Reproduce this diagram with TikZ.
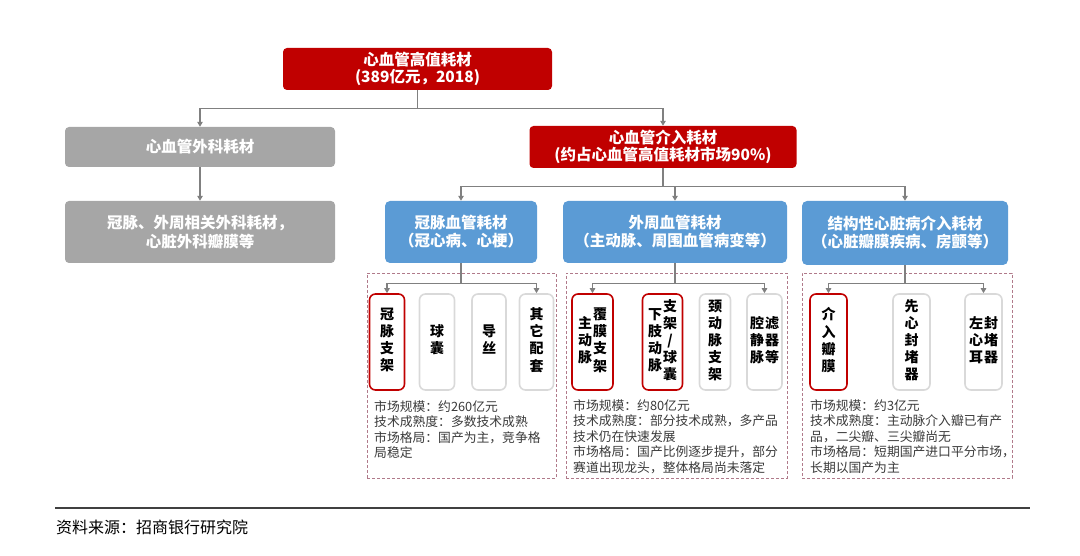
\documentclass[tikz,border=0pt]{standalone}
\usepackage{fontspec}
\setmainfont{Noto Sans CJK SC}
\usepackage{tikz}
\usetikzlibrary{arrows.meta}
\definecolor{Crimson}{HTML}{C00000}
\definecolor{Steel}{HTML}{5B9BD5}
\definecolor{Ash}{HTML}{A6A6A6}
\definecolor{Wire}{HTML}{808080}
\definecolor{Frame}{HTML}{D9D9D9}
\definecolor{Mauve}{HTML}{B07A8A}
\definecolor{Ink}{HTML}{3A3A3A}
\definecolor{Rule}{HTML}{404040}
\newcommand{\vcol}[1]{\begin{tabular}[c]{@{}c@{}}#1\end{tabular}}

\begin{document}
\begin{tikzpicture}[x=1pt,y=-1pt,every node/.style={align=center,inner sep=0pt},
  headbox/.style={rounded corners=4pt,fill=Crimson,text=white,font=\fontsize{15.5}{17}\selectfont\bfseries},
  surgbox/.style={rounded corners=4pt,fill=Ash,text=white,font=\fontsize{15.5}{19}\selectfont\bfseries},
  catbox/.style={rounded corners=5pt,fill=Steel,text=white,font=\fontsize{15.5}{18}\selectfont\bfseries},
  groupbox/.style={draw=Mauve,line width=0.9pt,dash pattern=on 3pt off 2pt},
  itembox/.style={draw=Frame,line width=1.6pt,rounded corners=6pt,minimum height=96pt,font=\fontsize{14}{17}\selectfont\bfseries},
  keybox/.style={itembox,draw=Crimson},
  infotext/.style={anchor=north west,align=left,text=Ink,font=\fontsize{12.8}{15.5}\selectfont},
  conn/.style={draw=Wire,line width=1.1pt,-{Triangle[width=5.5pt,length=5pt]}}]
      \useasboundingbox (0,0) rectangle (1080,556);

      \node[headbox,minimum width=269pt,minimum height=42pt] (total) at (417.5,69) {心血管高值耗材\\(389亿元，2018)};
      
      \node[surgbox,minimum width=270pt,minimum height=40pt] (surg) at (200,147) {心血管外科耗材};
      \node[surgbox,minimum width=270pt,minimum height=62pt] (surgitems) at (200,232) {冠脉、外周相关外科耗材，\\心脏外科瓣膜等};
      
      \node[headbox,minimum width=267pt,minimum height=42pt] (interv) at (663,147) {心血管介入耗材\\(约占心血管高值耗材市场90\%)};
      
      \node[catbox,minimum width=152pt,minimum height=62pt] (coronary) at (461,232) {冠脉血管耗材\\（冠心病、心梗）};
      \node[catbox,minimum width=224pt,minimum height=62pt] (periph) at (675,232) {外周血管耗材\\（主动脉、周围血管病变等）};
      \node[catbox,minimum width=206pt,minimum height=64pt] (struct) at (905,233) {结构性心脏病介入耗材\\（心脏瓣膜疾病、房颤等）};
      
      \node[groupbox,minimum width=189pt,minimum height=205pt] (grpA) at (461.5,375.5) {};
      \node[groupbox,minimum width=221pt,minimum height=205pt] (grpB) at (676.5,375.5) {};
      \node[groupbox,minimum width=210pt,minimum height=205pt] (grpC) at (907,375.5) {};
      
      \node[keybox,minimum width=35pt] (stent) at (387,342) {\vcol{冠\\脉\\支\\架}};
      \node[itembox,minimum width=35pt] (balloon) at (437,342) {\vcol{球\\囊}};
      \node[itembox,minimum width=34pt] (wire) at (489,342) {\vcol{导\\丝}};
      \node[itembox,minimum width=34pt] (other) at (536.5,342) {\vcol{其\\它\\配\\套}};
      
      \node[keybox,minimum width=41pt] (aortic) at (592.5,342) {\vcol{主\\动\\脉}\hspace{1pt}\vcol{覆\\膜\\支\\架}};
      \node[keybox,minimum width=40pt] (limb) at (662.5,342) {\vcol{下\\肢\\动\\脉}\hspace{1pt}\vcol{支\\架\\/\\球\\囊}};
      \node[itembox,minimum width=31pt] (carotid) at (715,342) {\vcol{颈\\动\\脉\\支\\架}};
      \node[itembox,minimum width=35pt] (filter) at (764.5,342) {\vcol{腔\\静\\脉}\hspace{1pt}\vcol{滤\\器\\等}};
      
      \node[keybox,minimum width=37pt] (valve) at (828.5,342) {\vcol{介\\入\\瓣\\膜}};
      \node[itembox,minimum width=37pt] (occluder) at (911.5,342) {\vcol{先\\心\\封\\堵\\器}};
      \node[itembox,minimum width=37pt] (laa) at (983.5,342) {\vcol{左\\心\\耳}\hspace{1pt}\vcol{封\\堵\\器}};
      
      \node[infotext] (infoA) at (374,400) {市场规模：约260亿元\\技术成熟度：多数技术成熟\\市场格局：国产为主，竞争格\\局稳定};
      \node[infotext] (infoB) at (573,399) {市场规模：约80亿元\\技术成熟度：部分技术成熟，多产品\\技术仍在快速发展\\市场格局：国产比例逐步提升，部分\\赛道出现龙头，整体格局尚未落定};
      \node[infotext] (infoC) at (810,399) {市场规模：约3亿元\\技术成熟度：主动脉介入瓣已有产\\品，二尖瓣、三尖瓣尚无\\市场格局：短期国产进口平分市场，\\长期以国产为主};
      
      \draw[conn] (total.south) -- ++(0,18) -| (surg.north);
      \draw[conn] (total.south) -- ++(0,18) -| (interv.north);
      \draw[conn] (surg) -- (surgitems);
      \draw[conn] (interv.south) -- ++(0,18) -| (coronary.north);
      \draw[conn] (interv.south) -- ++(0,18) -| (periph.north);
      \draw[conn] (interv.south) -- ++(0,18) -| (struct.north);
      \draw[conn] (coronary.south) -- ++(0,20) -| (stent.north);
      \draw[conn] (coronary.south) -- ++(0,20) -| (other.north);
      \draw[conn] (periph.south) -- ++(0,20) -| (aortic.north);
      \draw[conn] (periph.south) -- ++(0,20) -| (filter.north);
      \draw[conn] (struct.south) -- ++(0,18) -| (valve.north);
      \draw[conn] (struct.south) -- ++(0,18) -| (laa.north);
      
      \draw[Rule,line width=2pt] (55,508) -- (1030,508);
      \node[anchor=west,text=black,font=\fontsize{16}{18}\selectfont] (source) at (56,527) {资料来源：招商银行研究院};
    \end{tikzpicture}
\end{document}
